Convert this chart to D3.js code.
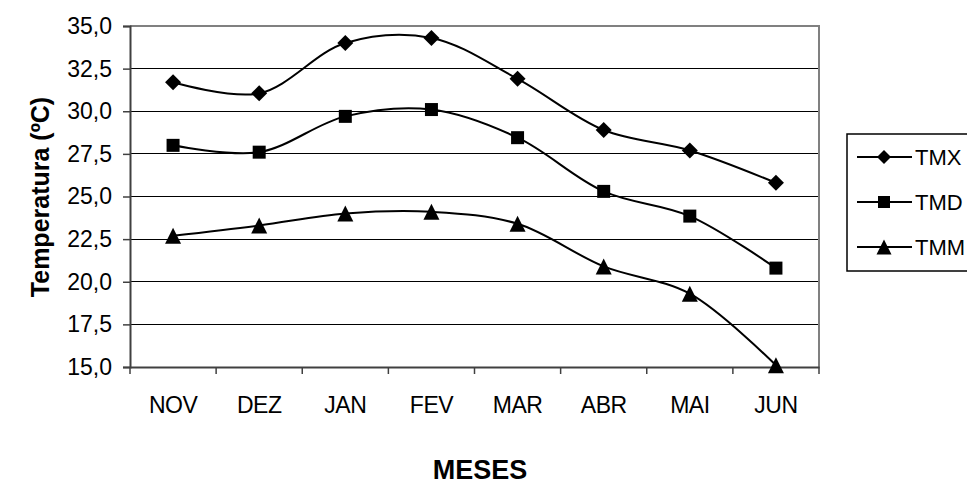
<!DOCTYPE html>
<html><head><meta charset="utf-8">
<script src="https://cdn.jsdelivr.net/npm/d3@7"></script>
<style>body{margin:0;background:#fff}svg{display:block}text{font-family:"Liberation Sans",Arial,sans-serif}</style>
</head><body>
<svg id="c" width="967" height="486"></svg>
<script>
const categories = ["NOV","DEZ","JAN","FEV","MAR","ABR","MAI","JUN"];
const TMX = [31.7, 31.05, 34.0, 34.3, 31.9, 28.9, 27.7, 25.8];
const TMD = [28.0, 27.6, 29.7, 30.1, 28.45, 25.3, 23.85, 20.8];
const TMM = [22.7, 23.3, 24.0, 24.1, 23.4, 20.9, 19.3, 15.1];
const yTicks = [15, 17.5, 20, 22.5, 25, 27.5, 30, 32.5, 35];
const seriesNames = ["TMX","TMD","TMM"];
const seriesData = [TMX, TMD, TMM];

// marker shapes (box-centred)
const diamond = { draw(ctx, s) { const r = Math.sqrt(s) / 2; ctx.moveTo(0,-r); ctx.lineTo(r,0); ctx.lineTo(0,r); ctx.lineTo(-r,0); ctx.closePath(); } };
const square = { draw(ctx, s) { const r = Math.sqrt(s) / 2; ctx.rect(-r,-r,2*r,2*r); } };
const triangle = { draw(ctx, s) { const r = Math.sqrt(s) / 2; ctx.moveTo(0,-r); ctx.lineTo(r,r); ctx.lineTo(-r,r); ctx.closePath(); } };
const symbols = [diamond, square, triangle];
const sizes = [16*16, 13*13, 16*16];
const legendSizes = [14*14, 12*12, 15*15];

const svg = d3.select("#c");
const L = 130, R = 819, T = 26, B = 367;
const x = d3.scaleBand().domain(categories).range([L, R]);
const y = d3.scaleLinear().domain([15, 35]).range([B, T]);
const fmt = v => v.toFixed(1).replace(".", ",");

// gridlines
svg.append("g").selectAll("line").data(yTicks.slice(1, -1)).join("line")
  .attr("x1", L).attr("x2", R).attr("y1", d => y(d)).attr("y2", d => y(d))
  .attr("stroke", "#000").attr("stroke-width", 1).attr("shape-rendering","crispEdges");
// top & right border
svg.append("path").attr("d", `M${L},${T}H${R}V${B}`).attr("fill","none")
  .attr("stroke","#808080").attr("stroke-width",2);

// y axis
const yAxis = svg.append("g").attr("transform", `translate(${L},0)`)
  .call(d3.axisLeft(y).tickValues(yTicks).tickFormat(fmt).tickSize(7).tickPadding(11));
yAxis.select(".domain").attr("stroke","#404040").attr("stroke-width",2);
yAxis.selectAll(".tick line").attr("stroke","#404040").attr("stroke-width",1.5);
yAxis.selectAll("text").attr("font-size", 23).attr("fill","#000")
  .attr("font-family",'"Liberation Sans",Arial,sans-serif');

// x axis
const xAxis = svg.append("g").attr("transform", `translate(0,${B})`)
  .call(d3.axisBottom(x).tickSize(0).tickPadding(30));
xAxis.select(".domain").attr("stroke","#404040").attr("stroke-width",2);
xAxis.selectAll("text").attr("font-size", 23).attr("fill","#000")
  .attr("font-family",'"Liberation Sans",Arial,sans-serif').attr("letter-spacing","-0.5");
// category boundary ticks
const bounds = categories.map(c => x(c)).concat([R]);
svg.append("g").selectAll("line").data(bounds).join("line")
  .attr("x1", d => d).attr("x2", d => d).attr("y1", B).attr("y2", B + 7)
  .attr("stroke","#404040").attr("stroke-width",1.5);

// lines
const line = d3.line().x((d, i) => x(categories[i]) + x.bandwidth() / 2).y(d => y(d))
  .curve(d3.curveCatmullRom.alpha(0.5));
seriesData.forEach((s, k) => {
  svg.append("path").datum(s).attr("d", line).attr("fill","none")
    .attr("stroke","#000").attr("stroke-width",2);
  svg.append("g").selectAll("path").data(s).join("path")
    .attr("d", d3.symbol().type(symbols[k]).size(sizes[k]))
    .attr("transform", (d, i) => `translate(${x(categories[i]) + x.bandwidth() / 2},${y(d)})`)
    .attr("fill","#000");
});

// axis titles
svg.append("text").attr("transform", `translate(49,197) rotate(-90)`)
  .attr("text-anchor","middle").attr("font-size",25).attr("font-weight","bold")
  .text("Temperatura (ºC)");
svg.append("text").attr("x", 480).attr("y", 479).attr("text-anchor","middle")
  .attr("font-size",27).attr("font-weight","bold").text("MESES");

// legend
const lg = svg.append("g");
lg.append("rect").attr("x",847).attr("y",134).attr("width",140).attr("height",137)
  .attr("fill","#fff").attr("stroke","#000").attr("stroke-width",1.5);
const ly = [157, 202, 247];
seriesNames.forEach((n, k) => {
  lg.append("line").attr("x1",857).attr("x2",912).attr("y1",ly[k]).attr("y2",ly[k])
    .attr("stroke","#000").attr("stroke-width",2);
  lg.append("path").attr("d", d3.symbol().type(symbols[k]).size(legendSizes[k]))
    .attr("transform",`translate(884,${ly[k]})`).attr("fill","#000");
  lg.append("text").attr("x",915).attr("y",ly[k] + 8).attr("font-size",22).text(n);
});
</script>
</body></html>
